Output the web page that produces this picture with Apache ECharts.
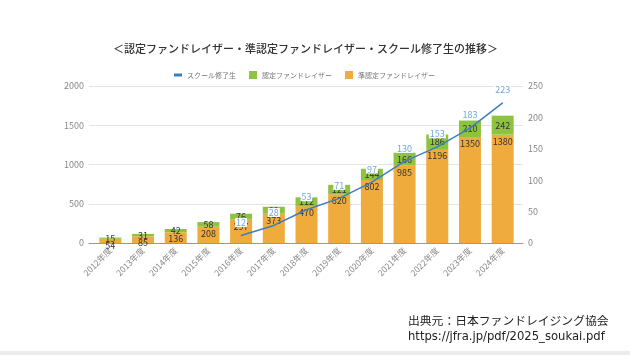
<!DOCTYPE html>
<html><head><meta charset="utf-8">
<script src="https://cdn.jsdelivr.net/npm/echarts@6/dist/echarts.min.js"></script>
<style>html,body{margin:0;padding:0;background:#fff}#c{width:630px;height:355px}</style>
</head><body><div id="c"></div>
<script>
const categories = ['2012年度','2013年度','2014年度','2015年度','2016年度','2017年度','2018年度','2019年度','2020年度','2021年度','2022年度','2023年度','2024年度'];
const junNintei = [54, 85, 136, 208, 297, 373, 470, 620, 802, 985, 1196, 1350, 1380];
const nintei = [15, 31, 42, 58, 76, 89, 112, 121, 144, 166, 186, 210, 242];
const school = ['-', '-', '-', '-', 12, 28, 53, 71, 97, 130, 153, 183, 223];
const leftTicks = {min: 0, max: 2000, interval: 500};
const rightTicks = {min: 0, max: 250, interval: 50};

const FONT = '"Noto Sans CJK JP", "Noto Sans", sans-serif';
const LINE_COLOR = '#3b7fc1';
const chart = echarts.init(document.getElementById('c'), null, {renderer: 'canvas'});
const barLabel = {show: true, color: '#333', fontSize: 9, fontFamily: FONT};
const plain = v => String(v);
chart.setOption({
  animation: false,
  textStyle: {fontFamily: FONT},
  title: {
    text: '＜認定ファンドレイザー・準認定ファンドレイザー・スクール修了生の推移＞',
    left: 108, top: 38,
    textStyle: {fontSize: 11, fontWeight: 500, color: '#333', fontFamily: FONT}
  },
  legend: {
    top: 66, left: 169, itemWidth: 8, itemHeight: 8, itemGap: 13,
    textStyle: {fontSize: 7, color: '#777', fontFamily: FONT},
    data: [
      {name: 'スクール修了生', icon: 'path://M0,0 H8 V3 H0 Z', itemStyle: {color: LINE_COLOR, opacity: 1}},
      {name: '認定ファンドレイザー', icon: 'rect'},
      {name: '準認定ファンドレイザー', icon: 'rect'}
    ]
  },
  grid: [
    {left: 89, right: 107, top: 86, height: 157},
    {left: 94, right: 111, top: 86, height: 157}
  ],
  xAxis: [
    {type: 'value', gridIndex: 0, min: 0, max: 1, axisLabel: {show: false}, axisTick: {show: false},
     splitLine: {show: false}, axisLine: {show: true, lineStyle: {color: '#999', width: 1}}},
    {type: 'category', gridIndex: 1, data: categories,
     axisLine: {show: false}, axisTick: {show: false},
     axisLabel: {rotate: 45, fontSize: 8.5, color: '#888', margin: 6, interval: 0, fontFamily: FONT}}
  ],
  yAxis: [
    Object.assign({type: 'value', gridIndex: 0, position: 'left',
     axisLabel: {fontSize: 9, color: '#888', margin: 5, formatter: plain},
     axisLine: {show: false}, axisTick: {show: false},
     splitLine: {lineStyle: {color: '#e4e4e4'}}}, leftTicks),
    Object.assign({type: 'value', gridIndex: 0, position: 'right',
     axisLabel: {fontSize: 9, color: '#888', margin: 5, formatter: plain},
     axisLine: {show: false}, axisTick: {show: false},
     splitLine: {show: false}}, rightTicks),
    Object.assign({type: 'value', gridIndex: 1, show: false}, leftTicks),
    Object.assign({type: 'value', gridIndex: 1, show: false, position: 'right'}, rightTicks)
  ],
  series: [
    {name: '準認定ファンドレイザー', type: 'bar', stack: 'total', xAxisIndex: 1, yAxisIndex: 2,
     data: junNintei, barWidth: 22, itemStyle: {color: '#efab3b'},
     label: Object.assign({position: 'insideTop', distance: 2}, barLabel)},
    {name: '認定ファンドレイザー', type: 'bar', stack: 'total', xAxisIndex: 1, yAxisIndex: 2,
     data: nintei, barWidth: 22, itemStyle: {color: '#8dc33f'},
     label: Object.assign({position: 'inside'}, barLabel)},
    {name: 'スクール修了生', type: 'line', xAxisIndex: 1, yAxisIndex: 3, data: school,
     symbol: 'circle', symbolSize: 1, showSymbol: true, z: 5,
     lineStyle: {color: LINE_COLOR, width: 1.5}, itemStyle: {color: LINE_COLOR},
     label: {show: true, position: 'top', distance: 8, color: '#6fa8dc', fontSize: 9,
             backgroundColor: '#fff', padding: [0, 1], fontFamily: FONT}}
  ],
  graphic: [
    {type: 'text', left: 408, top: 315, style: {text: '出典元：日本ファンドレイジング協会', fontSize: 11.8, fill: '#222', fontFamily: FONT}},
    {type: 'text', left: 408, top: 331, style: {text: 'https://jfra.jp/pdf/2025_soukai.pdf', fontSize: 11.6, fill: '#222', fontFamily: '"DejaVu Sans", sans-serif'}},
    {type: 'rect', left: 0, top: 351, shape: {width: 630, height: 4}, style: {fill: '#ececec'}}
  ]
});
</script></body></html>
